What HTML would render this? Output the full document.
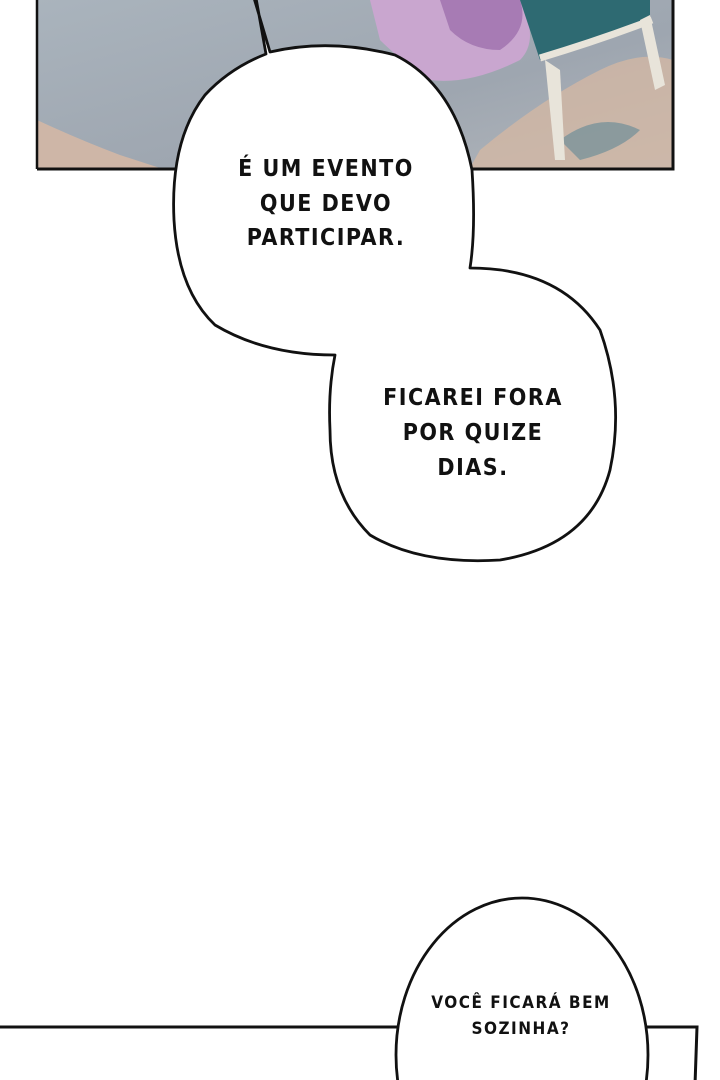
<!DOCTYPE html>
<html><head><meta charset="utf-8"><style>
html,body{margin:0;padding:0;background:#fff;width:720px;height:1080px;overflow:hidden}
svg{display:block;overflow:hidden}
text{font-family:"DejaVu Sans Condensed","Liberation Sans Narrow","Liberation Sans",sans-serif;font-weight:bold;fill:#111;text-anchor:middle;letter-spacing:1.5px}
</style></head><body>
<svg width="720" height="1080" viewBox="0 0 720 1080" xmlns="http://www.w3.org/2000/svg">
<defs>
<linearGradient id="bg" x1="0" y1="0" x2="1" y2="1">
<stop offset="0" stop-color="#aab4bd"/><stop offset="0.6" stop-color="#9ea6b0"/><stop offset="1" stop-color="#b2b6bb"/>
</linearGradient>
<clipPath id="c"><rect x="0" y="0" width="720" height="1080"/></clipPath>
</defs>
<g clip-path="url(#c)">
<rect x="37" y="-5" width="636" height="174" fill="url(#bg)"/>
<path d="M37 120 Q80 140 120 155 L160 168 L37 168Z" fill="#d9b9a4" opacity="0.8"/>
<path d="M480 150 Q540 100 600 70 Q640 50 673 60 L673 168 L470 168Z" fill="#d6b8a3" opacity="0.75"/>
<path d="M560 140 Q600 110 640 130 Q620 150 580 160Z" fill="#6f8f98" opacity="0.7"/>
<path d="M370 0 L520 0 Q540 40 520 60 Q470 85 430 80 Q400 60 380 40Z" fill="#c9a6cf"/>
<path d="M440 0 L520 0 Q530 30 500 50 Q470 50 450 30Z" fill="#a77bb4"/>
<path d="M520 0 L650 0 L650 20 Q600 40 540 60 Z" fill="#2e6a72"/>
<path d="M545 60 L555 160 L565 160 L560 70 Z" fill="#e8e4da"/>
<path d="M640 20 L655 90 L665 85 L650 15 Z" fill="#e8e4da"/>
<path d="M540 58 Q600 40 652 20" stroke="#e8e4da" stroke-width="7" fill="none"/>
<path d="M37 169 H673 V-5" stroke="#111" stroke-width="3" fill="none"/>
<path d="M37 -5 V169" stroke="#111" stroke-width="2.5" fill="none"/>
<path d="M254 -2 L270 52 Q330 38 395 55 Q455 85 472 170 Q476 230 470 268
 Q560 268 600 330 Q625 400 610 470 Q590 545 500 560 Q420 565 370 535 Q330 495 330 430 Q328 390 335 355
 Q265 355 215 325 Q178 290 174 220 Q170 140 205 95 Q230 68 266 54 L256 -2 Z" fill="#fff" stroke="#111" stroke-width="2.8" stroke-linejoin="round"/>
<text font-size="23" x="326" y="176">É UM EVENTO</text>
<text font-size="23" x="326" y="211">QUE DEVO</text>
<text font-size="23" x="326" y="245">PARTICIPAR.</text>
<text font-size="23" x="473" y="405">FICAREI FORA</text>
<text font-size="23" x="473" y="440">POR QUIZE</text>
<text font-size="23" x="473" y="475">DIAS.</text>
<path d="M-5 1027 H697 L695 1085" stroke="#111" stroke-width="3" fill="none"/>
<ellipse cx="522" cy="1055" rx="126" ry="157" fill="#fff" stroke="#111" stroke-width="2.8"/>
<text font-size="17" x="521" y="1008">VOCÊ FICARÁ BEM</text>
<text font-size="17" x="521" y="1034">SOZINHA?</text>
</g>
</svg>
</body></html>
